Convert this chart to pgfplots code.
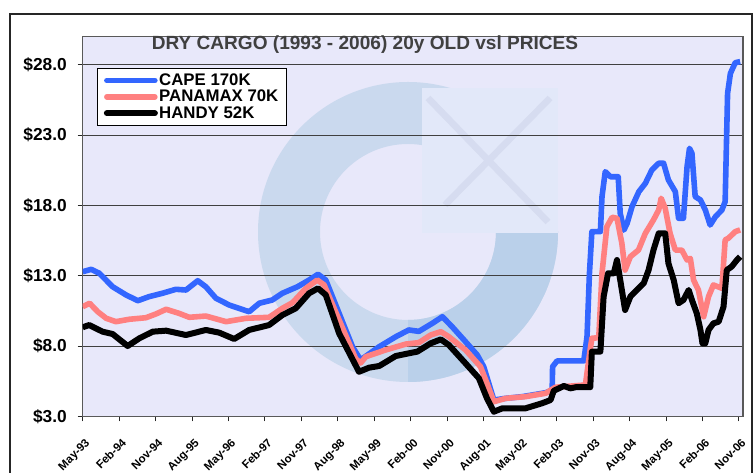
\documentclass[border=0pt]{standalone}
\usepackage{pgfplots}
\pgfplotsset{compat=1.18}
\usepackage{fontspec}
\setmainfont{Liberation Sans}
\definecolor{bgl}{RGB}{232,232,250}
\definecolor{capeblue}{RGB}{51,102,255}
\definecolor{panapink}{RGB}{255,128,128}
\definecolor{titlegray}{RGB}{64,64,64}
\definecolor{wmring}{RGB}{202,217,238}
\definecolor{wmdark}{RGB}{186,208,234}
\definecolor{wmsq}{RGB}{226,232,249}
\definecolor{wmx}{RGB}{214,220,240}

\pgfplotstableread{
x y
0 13.29
2.1 13.46
4.1 13.18
7.4 12.22
10.7 11.64
13.6 11.23
16.4 11.52
19.7 11.76
23.0 12.04
25.5 11.99
28.4 12.65
30.4 12.22
32.9 11.40
36.2 10.92
40.3 10.52
41.1 10.45
43.6 11.05
46.8 11.28
49.3 11.76
53.0 12.22
55.9 12.70
58.1 13.11
60.0 12.70
63.3 10.33
66.6 7.96
68.6 7.02
73.2 7.96
77.3 8.67
80.5 9.15
83.0 9.05
86.3 9.62
88.8 10.09
91.2 9.38
94.5 8.32
97.4 7.37
99.0 6.54
101.5 4.17
104.4 4.29
108.5 4.41
114.3 4.69
115.9 4.88
116.0 6.54
117.1 6.95
123.7 6.95
124.5 8.67
125.1 13.18
125.7 16.14
127.8 16.14
128.2 18.63
129.0 20.40
130.3 20.04
132.2 20.04
132.7 17.44
133.6 16.25
134.4 16.73
135.6 17.91
137.3 18.98
138.9 19.57
140.5 20.52
142.2 21.00
143.4 21.00
144.6 19.81
146.3 18.98
147.1 17.09
148.3 17.09
149.2 20.76
149.8 22.06
150.4 21.71
151.2 18.63
152.5 18.39
153.7 17.68
154.9 16.61
156.2 17.20
157.8 17.68
158.6 18.27
159.2 25.97
159.9 27.39
161.1 28.15
162.3 28.22
}\cape

\pgfplotstableread{
x y
0 10.80
1.7 11.05
3.7 10.45
5.8 9.98
8.2 9.74
11.5 9.91
15.6 10.02
18.1 10.29
20.6 10.62
23.8 10.33
26.3 10.05
30.4 10.14
35.4 9.74
40.3 9.98
46.0 10.05
49.3 10.69
51.8 11.09
55.1 12.11
57.9 12.70
59.6 12.35
63.3 9.86
67.4 7.10
68.6 6.80
69.9 7.25
74.8 7.73
79.8 8.15
83.0 8.25
85.9 8.79
88.4 9.03
90.4 8.67
94.5 7.73
98.2 6.54
99.8 5.36
101.5 4.05
104.4 4.29
109.3 4.41
114.3 4.65
116.7 5.08
124.1 5.24
125.3 7.80
125.7 8.56
127.4 8.60
128.2 13.18
129.4 16.49
130.7 17.16
131.9 17.09
133.1 15.31
133.9 13.41
135.2 14.36
137.2 14.83
138.9 16.02
140.9 16.97
142.2 17.68
142.8 18.51
143.8 17.80
145.0 16.02
146.3 14.83
147.9 14.83
149.2 14.12
150.0 14.24
150.8 12.70
152.0 11.99
153.3 10.09
154.5 11.52
155.7 12.35
157.8 12.11
158.6 15.55
159.4 15.67
161.1 16.14
162.3 16.26
}\panamax

\pgfplotstableread{
x y
0 9.34
1.6 9.50
4.9 9.03
7.4 8.86
11.1 8.01
14.0 8.56
17.3 9.03
20.6 9.10
25.5 8.79
30.4 9.15
33.7 8.96
37.4 8.51
41.1 9.15
46.0 9.50
49.3 10.21
52.6 10.69
55.9 11.76
58.1 12.11
60.0 11.64
63.3 8.91
68.2 6.18
70.7 6.47
73.2 6.59
77.3 7.30
80.5 7.49
82.6 7.61
85.9 8.20
88.4 8.48
90.4 8.08
94.5 6.78
97.8 5.72
99.8 4.29
101.5 3.34
103.6 3.58
109.3 3.58
113.4 3.94
115.5 4.17
116.3 4.83
118.8 5.17
120.4 5.00
121.7 5.08
125.3 5.08
125.7 7.61
127.8 7.61
128.6 11.52
129.7 13.18
131.1 13.18
131.9 14.12
132.7 12.70
133.9 10.57
135.2 11.52
136.8 11.99
138.5 12.47
139.7 13.41
140.9 14.83
142.2 16.02
143.8 16.02
144.6 13.88
145.9 12.70
147.1 11.05
148.3 11.28
149.6 11.99
150.4 11.28
151.6 10.33
152.5 9.15
153.0 8.20
153.7 8.20
154.5 9.15
155.7 9.62
157.0 9.74
158.2 10.80
159.0 13.41
160.2 13.65
161.5 14.12
162.3 14.36
}\handy

\begin{document}
\begin{tikzpicture}
\useasboundingbox (0,0) rectangle (567pt,354.75pt);
\begin{scope}[x=0.75pt,y=-0.75pt,yshift=354.75pt]
  \draw[line width=1.1pt, black!85] (10,520) -- (10,14) -- (752,14) -- (752,520);
  \fill[bgl] (82.7,36.6) rectangle (743,416.5);
  \begin{scope}
    \clip (82.7,36.6) rectangle (743,416.5);
    \fill[wmring, even odd rule] (408,232) circle (150) (408,232) circle (88);
    \begin{scope}
      \clip (408,232) -- (560,232) -- (560,400) -- (408,400) -- cycle;
      \fill[wmdark, even odd rule] (408,232) circle (150) (408,232) circle (88);
    \end{scope}
    \fill[wmsq] (422,88) rectangle (558,233);
    \draw[wmx, line width=5pt] (428,98) -- (548,222);
    \draw[wmx, line width=5pt] (550,98) -- (445,205);
  \end{scope}
\end{scope}

\begin{axis}[
  at={(62.025pt,42.375pt)}, anchor=south west,
  width=495.2pt, height=284.9pt, scale only axis,
  xmin=0, xmax=163, ymin=3, ymax=30,
  xtick={0,9,...,162},
  xticklabels={May-93,Feb-94,Nov-94,Aug-95,May-96,Feb-97,Nov-97,Aug-98,May-99,Feb-00,Nov-00,Aug-01,May-02,Feb-03,Nov-03,Aug-04,May-05,Feb-06,Nov-06},
  ytick={3,8,13,18,23,28},
  yticklabels={\$3.0,\$8.0,\$13.0,\$18.0,\$23.0,\$28.0},
  /pgf/number format/assume math mode=true,
  ymajorgrids,
  major grid style={black!75, line width=0.75pt},
  tick align=outside, major tick length=3.75pt,
  tick style={black!85, line width=0.75pt},
  xtick pos=lower, ytick pos=left,
  axis line style={gray!70!black, line width=1pt},
  yticklabel style={font=\fontsize{13}{13}\selectfont\bfseries, inner sep=0pt, xshift=-8pt},
  xticklabel style={font=\fontsize{8.6}{8.6}\selectfont\bfseries, rotate=45, anchor=north east, inner sep=0pt, xshift=-7.5pt, yshift=-9.5pt},
  legend cell align=left,
  legend style={at={(0.0212,0.918)}, anchor=north west, draw=black, line width=0.75pt, fill=white,
    font=\fontsize{12.6}{12.6}\selectfont\bfseries, inner xsep=5pt, inner ysep=3pt, row sep=0pt,
    nodes={inner sep=1pt}},
  legend image code/.code={\draw[#1, line cap=round] (0pt,0pt) -- (36pt,0pt);},
]
\addplot[capeblue, line width=4.2pt, line join=round] table {\cape};
\addlegendentry{CAPE 170K}
\addplot[panapink, line width=4.2pt, line join=round] table {\panamax};
\addlegendentry{PANAMAX 70K}
\addplot[black, line width=4.5pt, line join=round] table {\handy};
\addlegendentry{HANDY 52K}
\end{axis}

\begin{scope}[x=0.75pt,y=-0.75pt,yshift=354.75pt]
  \node[font=\fontsize{14.3}{14.3}\selectfont\bfseries, text=titlegray] at (365,45) {DRY CARGO (1993 - 2006) 20y OLD vsl PRICES};
\end{scope}
\end{tikzpicture}
\end{document}
